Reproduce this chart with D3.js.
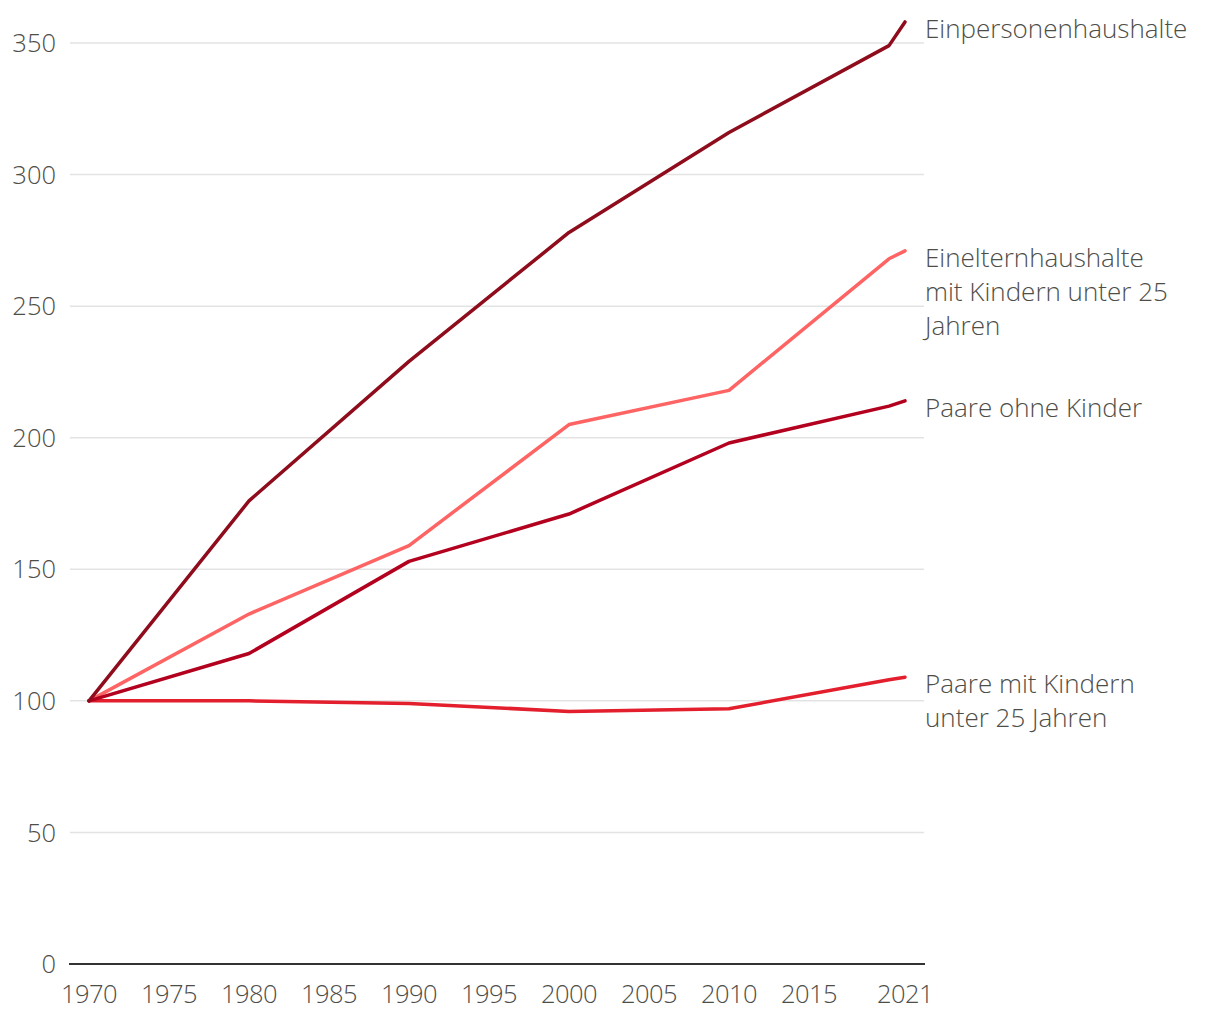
<!DOCTYPE html>
<html><head><meta charset="utf-8">
<script src="https://cdn.jsdelivr.net/npm/d3@7"></script>
<style>body{margin:0;background:#fff}svg{display:block}</style>
</head><body>
<script>
const years = [1970, 1980, 1990, 2000, 2010, 2020, 2021];
const einpersonen = [100, 176, 229, 278, 316, 349, 358];
const eineltern = [100, 133, 159, 205, 218, 268, 271];
const paareOhne = [100, 118, 153, 171, 198, 212, 214];
const paareMit = [100, 100, 99, 96, 97, 108, 109];
const seriesNames = ["Einpersonenhaushalte", "Einelternhaushalte mit Kindern unter 25 Jahren", "Paare ohne Kinder", "Paare mit Kindern unter 25 Jahren"];
const labelLines = [["Einpersonenhaushalte"], ["Einelternhaushalte", "mit Kindern unter 25", "Jahren"], ["Paare ohne Kinder"], ["Paare mit Kindern", "unter 25 Jahren"]];
const colors = ["#8e0c1c", "#ff6464", "#b3001f", "#e31e2d"];
const yTicks = [0, 50, 100, 150, 200, 250, 300, 350];
const xTicks = [1970, 1975, 1980, 1985, 1990, 1995, 2000, 2005, 2010, 2015, 2021];

const W = 1220, H = 1020;
const svg = d3.select("body").append("svg").attr("width", W).attr("height", H);
const x = d3.scaleLinear().domain([1970, 2021]).range([89, 905]);
const y = d3.scaleLinear().domain([0, 350]).range([964, 43]);
const font = "'Open Sans', sans-serif";
const textCol = "#4e4e49";

svg.append("g").selectAll("line").data(yTicks.filter(d => d > 0)).join("line")
  .attr("x1", 70).attr("x2", 924).attr("y1", d => y(d)).attr("y2", d => y(d))
  .attr("stroke", "#e3e3e3").attr("stroke-width", 1.5);

svg.append("g").selectAll("text").data(yTicks).join("text")
  .attr("x", 56).attr("y", d => y(d)).attr("dy", "0.36em").attr("text-anchor", "end")
  .attr("font-family", font).attr("font-size", 25.5).attr("font-weight", 300).attr("fill", textCol)
  .text(d => d);

svg.append("line").attr("x1", 69).attr("x2", 925).attr("y1", y(0)).attr("y2", y(0))
  .attr("stroke", "#333").attr("stroke-width", 2.2);

svg.append("g").selectAll("text").data(xTicks).join("text")
  .attr("x", d => x(d)).attr("y", 1003).attr("text-anchor", "middle")
  .attr("font-family", font).attr("font-size", 25.5).attr("font-weight", 300).attr("fill", textCol)
  .attr("letter-spacing", -0.6)
  .text(d => d);

const allSeries = [einpersonen, eineltern, paareOhne, paareMit];
const line = d3.line().x((d, i) => x(years[i])).y(d => y(d));
[3, 1, 2, 0].forEach(k => {
  svg.append("path").datum(allSeries[k]).attr("d", line)
    .attr("fill", "none").attr("stroke", colors[k]).attr("stroke-width", 3.5)
    .attr("stroke-linejoin", "round").attr("stroke-linecap", "round");
});

allSeries.forEach((s, k) => {
  const yEnd = y(s[s.length - 1]);
  const t = svg.append("text").attr("font-family", font).attr("font-size", 26).attr("font-weight", 300)
    .attr("fill", textCol).attr("x", 925).attr("y", yEnd + 16);
  labelLines[k].forEach((ln, j) => {
    t.append("tspan").attr("x", 925).attr("dy", j === 0 ? 0 : 34).text(ln);
  });
});
</script>
</body></html>
